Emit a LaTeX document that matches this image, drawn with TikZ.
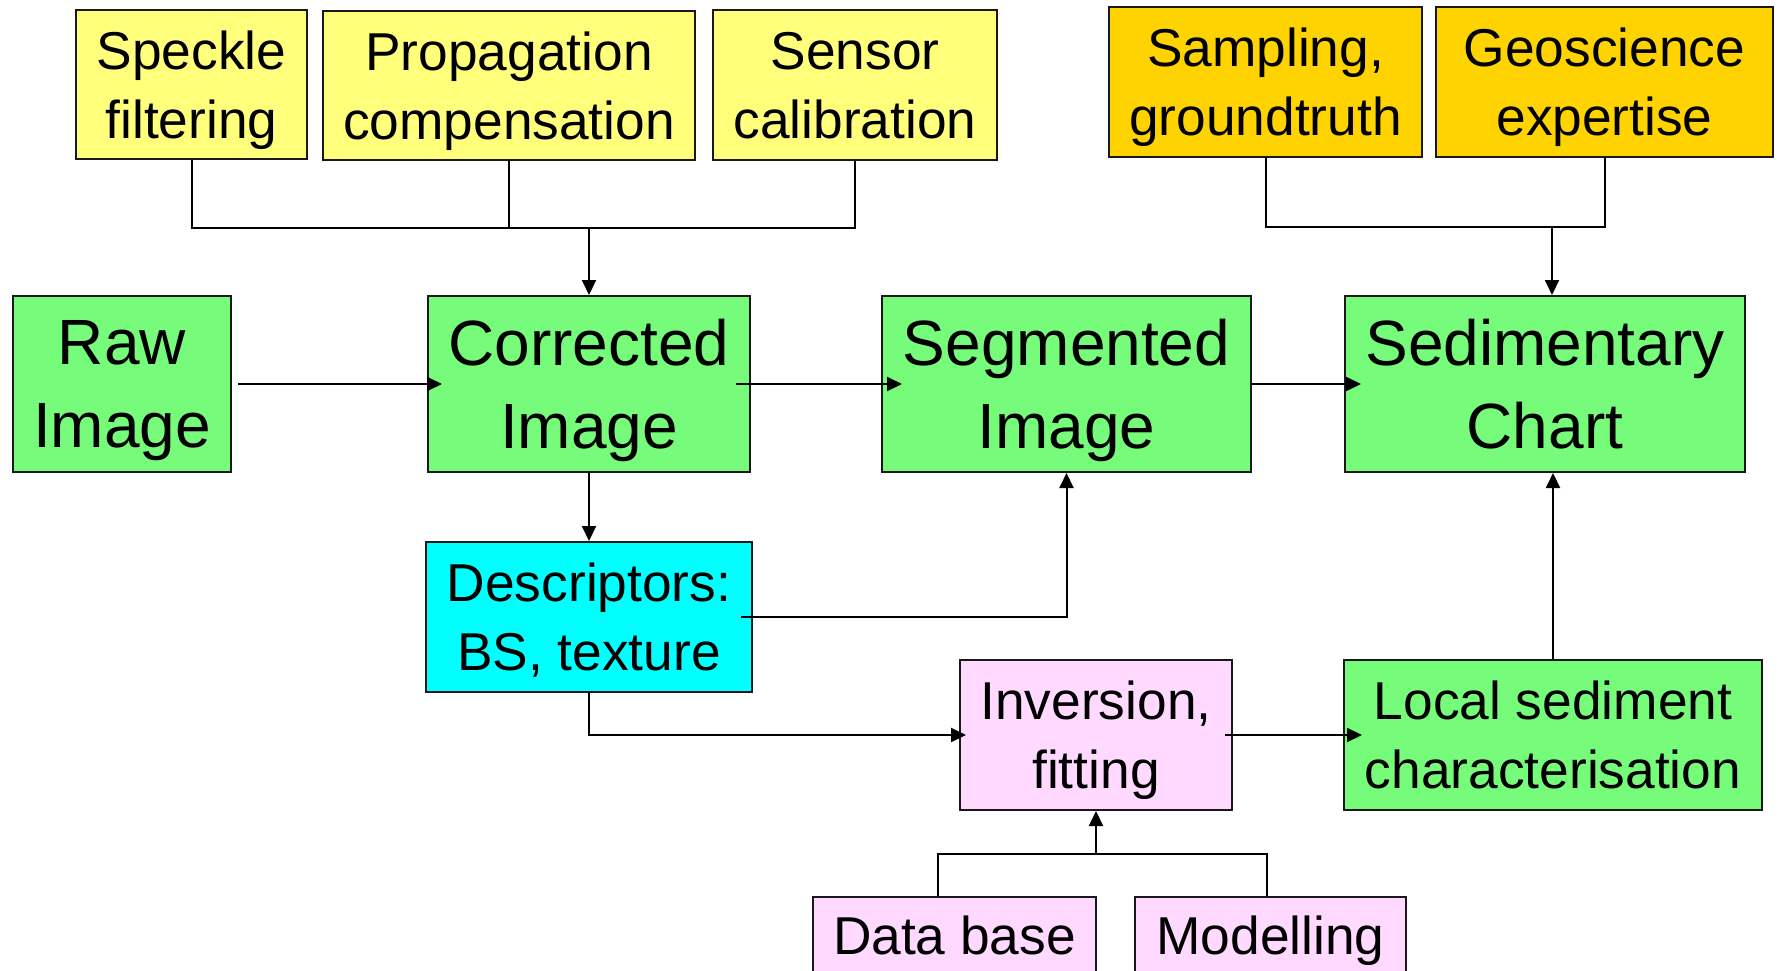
\documentclass[tikz,border=0pt]{standalone}
\usepackage{fontspec}
\setmainfont{Liberation Sans}
\usetikzlibrary{arrows.meta,calc}
\definecolor{bgreen}{RGB}{119,251,123}
\definecolor{byellow}{RGB}{255,255,124}
\definecolor{bgold}{RGB}{255,211,0}
\definecolor{bcyan}{RGB}{0,255,255}
\definecolor{bpink}{RGB}{255,217,255}
\tikzset{
  box/.style={draw=black!90, line width=2pt, inner sep=0pt, align=center},
  bigtxt/.style={font=\fontsize{64}{83}\selectfont},
  smalltxt/.style={font=\fontsize{53.3}{69}\selectfont},
  conn/.style={line width=2pt},
  arr/.style={conn, -{Triangle[length=15pt,width=14pt]}},
}
\begin{document}
\begin{tikzpicture}[x=1pt,y=-1pt]
\useasboundingbox (0,0) rectangle (1781,971);
\clip (0,0) rectangle (1781,971);
\fill[white] (0,0) rectangle (1781,971);

% top inputs
\node[box, fill=byellow, smalltxt, minimum width=231pt, minimum height=149pt] (speckle) at (191.5,84.5) {Speckle\\\smash{filtering}};
\node[box, fill=byellow, smalltxt, minimum width=372pt, minimum height=149pt] (prop) at (509,85.5) {Propagation\\\smash{compensation}};
\node[box, fill=byellow, smalltxt, minimum width=284pt, minimum height=150pt] (sensor) at (855,85) {Sensor\\\smash{calibration}};
\node[box, fill=bgold, smalltxt, minimum width=313pt, minimum height=150pt] (samp) at (1265.5,82) {Sampling,\\\smash{groundtruth}};
\node[box, fill=bgold, smalltxt, minimum width=337pt, minimum height=150pt] (geo) at (1604.5,82) {Geoscience\\\smash{expertise}};

% main row
\node[box, fill=bgreen, bigtxt, minimum width=218pt, minimum height=176pt] (raw) at (122,384) {Raw\\\smash{Image}};
\node[box, fill=bgreen, bigtxt, minimum width=322pt, minimum height=176pt] (corr) at (589,384) {Corrected\\\smash{Image}};
\node[box, fill=bgreen, bigtxt, minimum width=369pt, minimum height=176pt] (seg) at (1066.5,384) {Segmented\\\smash{Image}};
\node[box, fill=bgreen, bigtxt, minimum width=400pt, minimum height=176pt] (sed) at (1545,384) {Sedimentary\\\smash{Chart}};

% lower part
\node[box, fill=bcyan, smalltxt, minimum width=326pt, minimum height=150pt] (desc) at (589,617) {Descriptors:\\\smash{BS, texture}};
\node[box, fill=bpink, smalltxt, minimum width=272pt, minimum height=150pt] (inv) at (1096,735) {Inversion,\\\smash{fitting}};
\node[box, fill=bgreen, smalltxt, minimum width=418pt, minimum height=150pt] (local) at (1553,735) {Local sediment\\\smash{characterisation}};
\node[box, fill=bpink, smalltxt, anchor=north, minimum width=283pt, text height=57pt, text depth=93pt] (db) at (954.5,896) {Data base};
\node[box, fill=bpink, smalltxt, anchor=north, minimum width=271pt, text height=57pt, text depth=93pt] (model) at (1270.5,896) {Modelling};

% connectors
\coordinate (busL) at (589,228);
\draw[conn] (speckle.south) |- (busL) -| (sensor.south);
\draw[conn] (prop.south) -- (prop.south |- busL);
\draw[arr] (busL) -- (corr.north);

\coordinate (busR) at (1552,227);
\draw[conn] (samp.south) |- (busR) -| (geo.south);
\draw[arr] (busR) -- (busR |- sed.north);

\draw[arr, shorten <=6pt, shorten >=-15pt] (raw.east) -- (corr.west);
\draw[arr, shorten <=-15pt, shorten >=-21pt] (corr.east) -- (seg.west);
\draw[arr, shorten >=-17pt] (seg.east) -- (sed.west);
\draw[arr] (corr.south) -- (desc.north);
\draw[arr, shorten <=-12pt] (desc.east) -| (seg.south);
\draw[arr, shorten >=-7pt] (desc.south) |- (inv.west);
\draw[arr, shorten <=-8pt, shorten >=-19pt] (inv.east) -- (local.west);
\draw[arr] (local.north) -- (local.north |- sed.south);

\coordinate (busB) at (1096,854);
\coordinate (dbTop) at (938,896);
\coordinate (mdTop) at (1267,896);
\draw[conn] (dbTop) |- (busB) -| (mdTop);
\draw[arr] (busB) -- (inv.south);
\end{tikzpicture}
\end{document}
